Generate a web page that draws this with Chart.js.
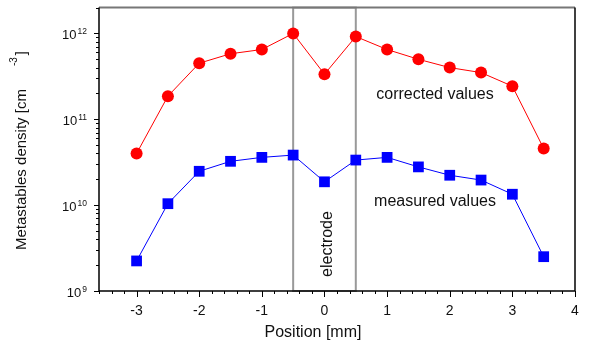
<!DOCTYPE html>
<html><head><meta charset="utf-8">
<script src="https://cdn.jsdelivr.net/npm/chart.js@4/dist/chart.umd.min.js"></script>
<style>html,body{margin:0;padding:0;background:#fff}</style>
</head><body>
<canvas id="c" width="591" height="347"></canvas>
<script>
const positions = [-3, -2.5, -2, -1.5, -1, -0.5, 0, 0.5, 1, 1.5, 2, 2.5, 3, 3.5];
const corrected = [4.0e10, 1.86e11, 4.5e11, 5.8e11, 6.5e11, 1.0e12, 3.35e11, 9.2e11, 6.5e11, 5.0e11, 4.0e11, 3.5e11, 2.43e11, 4.57e10];
const measured  = [2.24e9, 1.04e10, 2.48e10, 3.24e10, 3.6e10, 3.83e10, 1.87e10, 3.35e10, 3.6e10, 2.79e10, 2.23e10, 1.96e10, 1.34e10, 2.51e9];
const xTickLabels = [-3, -2, -1, 0, 1, 2, 3, 4];
const yDecades = [9, 10, 11, 12];
const electrodeRange = [-0.5, 0.5];
const xRange = [-3.6, 4];
const yRange = [1e9, 2e12];

const FONT = '"Liberation Sans", Arial, Helvetica, sans-serif';

const customPlugin = {
  id: 'custom',
  beforeDatasetsDraw(chart) {
    const ctx = chart.ctx, a = chart.chartArea, xs = chart.scales.x;
    ctx.save();
    // electrode box
    ctx.strokeStyle = '#999999';
    ctx.lineWidth = 2;
    const x0 = xs.getPixelForValue(electrodeRange[0]);
    const x1 = xs.getPixelForValue(electrodeRange[1]);
    ctx.strokeRect(x0, a.top, x1 - x0, a.bottom - a.top);
    // frame top / right
    ctx.strokeStyle = '#777777';
    ctx.lineWidth = 2;
    ctx.beginPath(); ctx.moveTo(a.left, a.top); ctx.lineTo(a.right, a.top); ctx.stroke();
    ctx.strokeStyle = '#000';
    ctx.lineWidth = 1.5;
    ctx.beginPath(); ctx.moveTo(a.right, a.top); ctx.lineTo(a.right, a.bottom); ctx.stroke();
    // electrode text
    ctx.fillStyle = '#111';
    ctx.font = '16px ' + FONT;
    ctx.save();
    ctx.translate(xs.getPixelForValue(0) + 8, 244);
    ctx.rotate(-Math.PI / 2);
    ctx.textAlign = 'center';
    ctx.textBaseline = 'alphabetic';
    ctx.fillText('electrode', 0, 0);
    ctx.restore();
    ctx.restore();
  },
  afterDraw(chart) {
    const ctx = chart.ctx, a = chart.chartArea, xs = chart.scales.x, ys = chart.scales.y;
    ctx.save();
    ctx.strokeStyle = '#000';
    ctx.fillStyle = '#111';
    ctx.lineWidth = 1.5;
    // left and bottom axes
    ctx.beginPath();
    ctx.moveTo(a.left, a.top); ctx.lineTo(a.left, a.bottom); ctx.lineTo(a.right, a.bottom);
    ctx.stroke();
    ctx.lineWidth = 1;
    // x ticks every 0.2
    ctx.beginPath();
    for (let k = Math.round(xRange[0] * 5); k <= Math.round(xRange[1] * 5); k++) {
      const px = Math.round(xs.getPixelForValue(k / 5)) + 0.5;
      const len = (k % 5 === 0) ? 6 : 3;
      ctx.moveTo(px, a.bottom); ctx.lineTo(px, a.bottom + len);
    }
    ctx.stroke();
    // x tick labels
    ctx.font = '14px ' + FONT;
    ctx.textAlign = 'center';
    ctx.textBaseline = 'alphabetic';
    xTickLabels.forEach(v => {
      ctx.fillText(String(v), xs.getPixelForValue(v), 315);
    });
    // y ticks
    ctx.beginPath();
    yDecades.forEach(d => {
      for (let m = 1; m <= 9; m++) {
        const v = m * Math.pow(10, d);
        if (v < yRange[0] || v > yRange[1]) continue;
        const py = Math.round(ys.getPixelForValue(v)) + 0.5;
        const len = m === 1 ? 5 : 3;
        ctx.moveTo(a.left, py); ctx.lineTo(a.left - len, py);
      }
    });
    ctx.stroke();
    // y tick labels with superscripts
    yDecades.forEach(d => {
      const py = ys.getPixelForValue(Math.pow(10, d));
      ctx.font = '8.5px ' + FONT;
      const exp = String(d);
      const ew = ctx.measureText(exp).width;
      ctx.textAlign = 'left';
      const expX = 87 - ew;
      ctx.fillText(exp, expX, py + 0.5);
      ctx.font = '13px ' + FONT;
      ctx.textAlign = 'right';
      ctx.fillText('10', expX - 1, py + 5.5);
    });
    // x title
    ctx.font = '16px ' + FONT;
    ctx.textAlign = 'center';
    ctx.fillText('Position [mm]', 313, 337);
    // y title
    ctx.save();
    ctx.translate(26, 250);
    ctx.rotate(-Math.PI / 2);
    ctx.textAlign = 'left';
    ctx.font = '15px ' + FONT;
    const main = 'Metastables density [cm';
    const mw = ctx.measureText(main).width;
    ctx.fillText(main, 0, 0);
    ctx.font = '10px ' + FONT;
    ctx.fillText('-3', mw + 23, -9);
    const sw = ctx.measureText('-3').width;
    ctx.font = '15px ' + FONT;
    ctx.fillText(']', mw + 23 + sw + 2, 0);
    ctx.restore();
    // annotations
    ctx.font = '16px ' + FONT;
    ctx.textAlign = 'center';
    ctx.fillText('corrected values', 435, 99);
    ctx.fillText('measured values', 435, 206);
    ctx.restore();
  }
};

new Chart(document.getElementById('c'), {
  type: 'line',
  data: {
    datasets: [
      {
        label: 'corrected values',
        data: positions.map((x, i) => ({ x, y: corrected[i] })),
        borderColor: '#ff0000',
        backgroundColor: '#ff0000',
        borderWidth: 1,
        pointStyle: 'circle',
        pointRadius: 6,
        pointBorderWidth: 0,
        tension: 0,
        clip: false
      },
      {
        label: 'measured values',
        data: positions.map((x, i) => ({ x, y: measured[i] })),
        borderColor: '#0000ff',
        backgroundColor: '#0000ff',
        borderWidth: 1,
        pointStyle: 'rect',
        pointRadius: 7.6,
        pointBorderWidth: 0,
        tension: 0,
        clip: false
      }
    ]
  },
  options: {
    responsive: false,
    animation: false,
    devicePixelRatio: 1,
    layout: { padding: { left: 99, top: 5, right: 16, bottom: 56 } },
    plugins: { legend: { display: false }, tooltip: { enabled: false } },
    scales: {
      x: { type: 'linear', min: xRange[0], max: xRange[1], display: false },
      y: { type: 'logarithmic', min: yRange[0], max: yRange[1], display: false }
    }
  },
  plugins: [customPlugin]
});
</script>
</body></html>
